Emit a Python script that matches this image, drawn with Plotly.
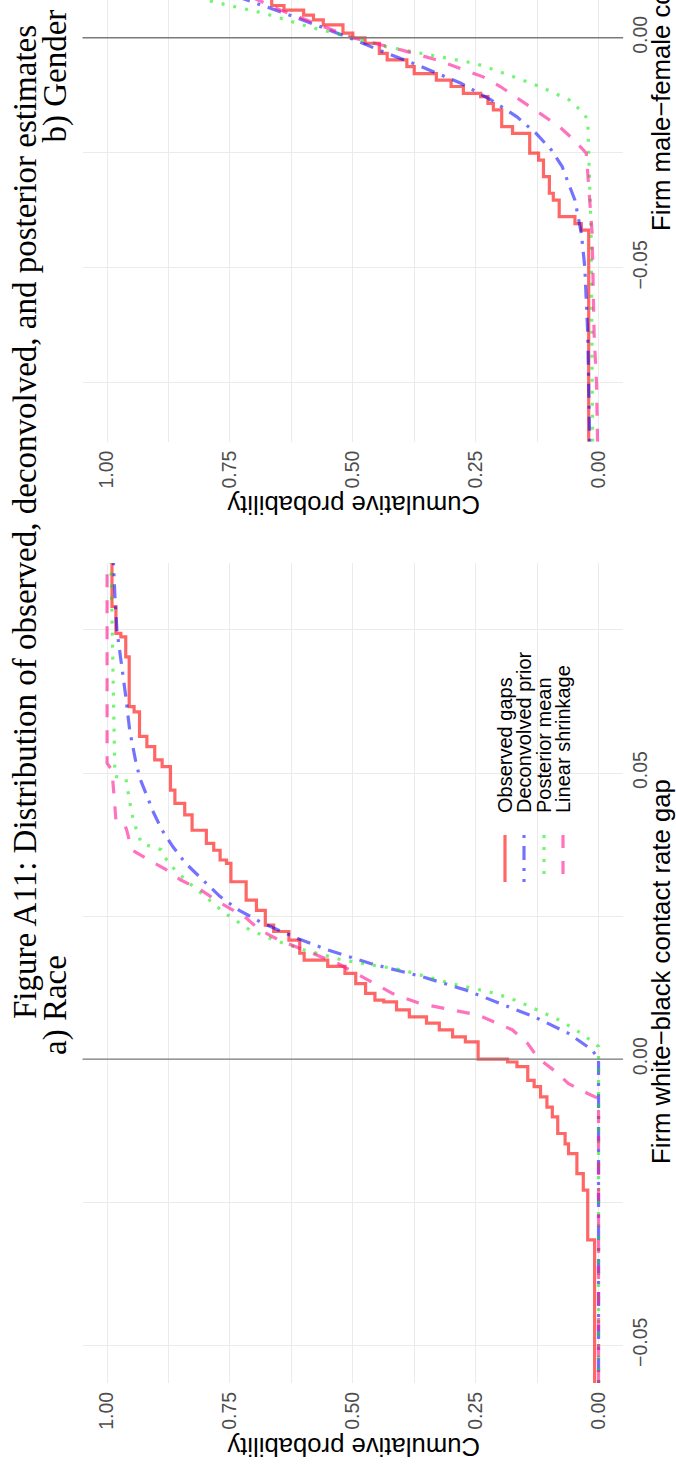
import plotly.graph_objects as go

W, H = 676, 1465

# ---------------- Panel a) Race : white-black contact gap ----------------
obs_a_gap = [-0.0566, -0.0316, -0.0229, -0.0200, -0.0165, -0.0148, -0.0130, -0.0101,
             -0.0084, -0.0066, -0.0048, -0.0037, -0.0013, -0.0005, 0.0000, 0.0030,
             0.0039, 0.0051, 0.0063, 0.0074, 0.0086, 0.0100, 0.0103, 0.0115, 0.0132,
             0.0150, 0.0162, 0.0173, 0.0185, 0.0208, 0.0223, 0.0234, 0.0260, 0.0278,
             0.0310, 0.0342, 0.0348, 0.0365, 0.0377, 0.0400, 0.0427, 0.0447, 0.0470,
             0.0511, 0.0523, 0.0546, 0.0564, 0.0607, 0.0616, 0.0703, 0.0738, 0.0744,
             0.0791, 0.0867]
obs_a_cdf = [0.008, 0.022, 0.031, 0.044, 0.061, 0.068, 0.083, 0.094,
             0.105, 0.118, 0.131, 0.144, 0.166, 0.185, 0.245, 0.271,
             0.297, 0.324, 0.350, 0.385, 0.411, 0.437, 0.455, 0.474, 0.494,
             0.516, 0.551, 0.599, 0.608, 0.630, 0.661, 0.678, 0.696, 0.717,
             0.748, 0.757, 0.770, 0.783, 0.798, 0.827, 0.842, 0.862, 0.871,
             0.888, 0.903, 0.919, 0.934, 0.945, 0.955, 0.962, 0.972, 0.982,
             0.990, 0.990]

dec_a_gap = [-0.0566, 0.0, 0.0016, 0.0045, 0.0074, 0.0103, 0.0121, 0.0144, 0.0167,
             0.0191, 0.0208, 0.0237, 0.0260, 0.0284, 0.0313, 0.0342, 0.0371, 0.0400,
             0.0430, 0.0459, 0.0488, 0.0517, 0.0575, 0.0634, 0.0692, 0.0750, 0.0808,
             0.0867]
dec_a_cdf = [0.0, 0.0, 0.013, 0.061, 0.131, 0.215, 0.271, 0.359, 0.464,
             0.551, 0.604, 0.682, 0.731, 0.770, 0.805, 0.840, 0.866, 0.888,
             0.905, 0.919, 0.932, 0.941, 0.954, 0.962, 0.971, 0.980, 0.984,
             0.987]

pm_a_gap = [-0.0566, 0.0022, 0.0045, 0.0068, 0.0092, 0.0103, 0.0115, 0.0132, 0.0156,
            0.0173, 0.0191, 0.0208, 0.0226, 0.0255, 0.0284, 0.0313, 0.0342, 0.0366,
            0.0377, 0.0400, 0.0430, 0.0459, 0.0491, 0.0494, 0.0750, 0.0867]
pm_a_cdf = [0.0, 0.0, 0.035, 0.079, 0.140, 0.170, 0.210, 0.300, 0.400,
            0.520, 0.600, 0.660, 0.710, 0.760, 0.800, 0.840, 0.875, 0.890,
            0.930, 0.940, 0.950, 0.955, 0.962, 0.984, 0.990, 0.992]

ls_a_gap = [-0.0566, -0.0069, -0.0060, -0.0043, -0.0022, 0.0001, 0.0027, 0.0051,
            0.0077, 0.0097, 0.0115, 0.0144, 0.0167, 0.0191, 0.0208, 0.0226, 0.0249,
            0.0273, 0.0296, 0.0313, 0.0331, 0.0348, 0.0366, 0.0400, 0.0412, 0.0418,
            0.0505, 0.0517, 0.0867]
ls_a_cdf = [0.0, 0.0, 0.022, 0.061, 0.087, 0.122, 0.144, 0.175,
            0.245, 0.363, 0.420, 0.480, 0.530, 0.600, 0.650, 0.690, 0.720,
            0.770, 0.810, 0.850, 0.880, 0.915, 0.950, 0.960, 0.965, 0.982,
            0.990, 1.000, 1.000]

# ---------------- Panel b) Gender : male-female contact gap ----------------
obs_b_gap = [-0.0878, -0.0418, -0.0404, -0.0389, -0.0353, -0.0338, -0.0302, -0.0266,
             -0.0251, -0.0208, -0.0193, -0.0157, -0.0143, -0.0128, -0.0121, -0.0106,
             -0.0092, -0.0078, -0.0063, -0.0048, -0.0034, -0.0012, 0.0000, 0.0010,
             0.0028, 0.0039, 0.0049, 0.0060, 0.0070, 0.0095]
obs_b_cdf = [0.020, 0.035, 0.048, 0.080, 0.092, 0.100, 0.112, 0.122,
             0.140, 0.175, 0.197, 0.214, 0.225, 0.240, 0.275, 0.300,
             0.330, 0.375, 0.390, 0.430, 0.446, 0.475, 0.500, 0.520,
             0.560, 0.580, 0.600, 0.640, 0.665, 0.665]

dec_b_gap = [-0.0878, -0.0643, -0.0570, -0.0498, -0.0425, -0.0353, -0.0317, -0.0280,
             -0.0244, -0.0208, -0.0172, -0.0135, -0.0099, -0.0063, -0.0027, 0.0000,
             0.0046, 0.0082, 0.0095]
dec_b_cdf = [0.018, 0.022, 0.025, 0.028, 0.035, 0.048, 0.061, 0.074,
             0.096, 0.127, 0.166, 0.219, 0.280, 0.360, 0.446, 0.507,
             0.620, 0.717, 0.750]

pm_b_gap = [-0.0878, -0.0425, -0.0179, -0.0164, -0.0135, -0.0106, -0.0078, -0.0056,
            -0.0034, -0.0020, 0.0000, 0.0024, 0.0053, 0.0082, 0.0095]
pm_b_cdf = [0.012, 0.015, 0.022, 0.030, 0.060, 0.120, 0.190, 0.250,
            0.360, 0.430, 0.500, 0.590, 0.680, 0.800, 0.830]

ls_b_gap = [-0.0878, -0.0752, -0.0643, -0.0425, -0.0251, -0.0222, -0.0193, -0.0172,
            -0.0135, -0.0106, -0.0085, -0.0048, -0.0027, 0.0000, 0.0060, 0.0095]
ls_b_cdf = [0.002, 0.004, 0.009, 0.013, 0.025, 0.050, 0.080, 0.110,
            0.160, 0.200, 0.235, 0.330, 0.400, 0.500, 0.647, 0.720]

prob_ticks = [0.0, 0.25, 0.5, 0.75, 1.0]
prob_labels = ["0.00", "0.25", "0.50", "0.75", "1.00"]
prob_minor = [0.125, 0.375, 0.625, 0.875]
gap_ticks = [-0.1, -0.05, 0.0, 0.05]
gap_labels = ["\u22120.10", "\u22120.05", "0.00", "0.05"]
gap_minor = [-0.075, -0.025, 0.025, 0.075]

series_names = ["Observed gaps", "Deconvolved prior", "Posterior mean", "Linear shrinkage"]
series_colors = ["rgba(255,0,0,0.6)", "rgba(0,0,255,0.55)",
                 "rgba(0,235,0,0.55)", "rgba(255,20,147,0.6)"]
series_dash = ["solid", "3px,8px,14px,8px", "3px,9px", "13px,13px"]
series_shape = ["vh", "linear", "linear", "linear"]
LW = 3.2


def px_x(x):
    return x / W


def px_y(y):
    return 1 - y / H


SANS = "Liberation Sans, Arial, sans-serif"
SERIF = "Liberation Serif, Times New Roman, serif"

fig = go.Figure()

panels = [
    ("x", "y", [(obs_a_cdf, obs_a_gap), (dec_a_cdf, dec_a_gap), (pm_a_cdf, pm_a_gap), (ls_a_cdf, ls_a_gap)]),
    ("x2", "y2", [(obs_b_cdf, obs_b_gap), (dec_b_cdf, dec_b_gap), (pm_b_cdf, pm_b_gap), (ls_b_cdf, ls_b_gap)]),
]
for xa, ya, data in panels:
    for i, (p, g) in enumerate(data):
        fig.add_trace(go.Scatter(
            x=p, y=g, mode="lines", xaxis=xa, yaxis=ya,
            name=series_names[i], showlegend=False, hoverinfo="skip",
            line=dict(color=series_colors[i], width=LW, dash=series_dash[i],
                      shape=series_shape[i]),
        ))

x_dom = [px_x(82.5), px_x(623.1)]
common_x = dict(
    range=[1.05, -0.05], domain=x_dom, showline=False, zeroline=False,
    ticks="", tickmode="array", tickvals=prob_ticks, ticktext=prob_labels,
    tickangle=-90, tickfont=dict(family=SANS, size=19.5, color="#4D4D4D"),
    showgrid=True, gridcolor="#EBEBEB", gridwidth=1.3,
    minor=dict(tickmode="array", tickvals=prob_minor, showgrid=True,
               gridcolor="#EBEBEB", gridwidth=0.8),
    ticklabelstandoff=4,
)
common_y = dict(
    side="right", showline=False, zeroline=False, ticks="",
    tickmode="array", tickvals=gap_ticks, ticktext=gap_labels,
    tickangle=-90, tickfont=dict(family=SANS, size=19.5, color="#4D4D4D"),
    showgrid=True, gridcolor="#EBEBEB", gridwidth=1.3,
    minor=dict(tickmode="array", tickvals=gap_minor, showgrid=True,
               gridcolor="#EBEBEB", gridwidth=0.8),
    ticklabelstandoff=3,
)

fig.update_layout(
    width=W, height=H, margin=dict(l=0, r=0, t=0, b=0),
    paper_bgcolor="white", plot_bgcolor="white", showlegend=False,
    xaxis=dict(common_x, anchor="y"),
    yaxis=dict(common_y, anchor="x", range=[-0.0566, 0.0867],
               domain=[px_y(1383), px_y(563)]),
    xaxis2=dict(common_x, anchor="y2"),
    yaxis2=dict(common_y, anchor="x2", range=[-0.0878, 0.0082],
                domain=[px_y(441.7), 1.0]),
)

# reference line at zero gap
for xa, ya in [("x", "y"), ("x2", "y2")]:
    fig.add_shape(type="line", xref=f"{xa} domain", yref=ya, x0=0, x1=1, y0=0, y1=0,
                  line=dict(color="#7A7A7A", width=1.3), layer="above")

annotations = []
# figure caption and sub-captions
annotations.append(dict(
    text="Figure A11: Distribution of observed, deconvolved, and posterior estimates",
    x=px_x(25), y=px_y(522), xref="paper", yref="paper", textangle=-90,
    xanchor="center", yanchor="middle", showarrow=False,
    font=dict(family=SERIF, size=33, color="black")))
annotations.append(dict(
    text="a) Race", x=px_x(55), y=px_y(1057), xref="paper", yref="paper", textangle=-90,
    xanchor="center", yanchor="bottom", showarrow=False,
    font=dict(family=SERIF, size=33, color="black")))
annotations.append(dict(
    text="b) Gender", x=px_x(55), y=px_y(8), xref="paper", yref="paper", textangle=-90,
    xanchor="center", yanchor="top", showarrow=False,
    font=dict(family=SERIF, size=33, color="black")))

# axis titles
annotations.append(dict(
    text="Firm white\u2212black contact rate gap", x=px_x(661), y=px_y(972),
    xref="paper", yref="paper", textangle=-90, xanchor="center", yanchor="middle",
    showarrow=False, font=dict(family=SANS, size=25.7, color="black")))
annotations.append(dict(
    text="Firm male\u2212female contact rate gap", x=px_x(661), y=px_y(233),
    xref="paper", yref="paper", textangle=-90, xanchor="center", yanchor="bottom",
    showarrow=False, font=dict(family=SANS, size=25.7, color="black")))
for yc in [1447, 505]:
    annotations.append(dict(
        text="Cumulative probability", x=px_x(353), y=px_y(yc), xref="paper", yref="paper",
        textangle=180, xanchor="center", yanchor="middle", showarrow=False,
        font=dict(family=SANS, size=25.7, color="black")))

# legend (drawn inside panel a)
legend_x = [505, 524, 544, 563]
for i, name in enumerate(series_names):
    annotations.append(dict(
        text=name, x=px_x(legend_x[i]), y=px_y(815), xref="paper", yref="paper",
        textangle=-90, xanchor="center", yanchor="bottom", showarrow=False,
        font=dict(family=SANS, size=20, color="black")))
    fig.add_shape(type="line", xref="paper", yref="paper",
                  x0=px_x(legend_x[i]), x1=px_x(legend_x[i]),
                  y0=px_y(835), y1=px_y(882),
                  line=dict(color=series_colors[i], width=LW, dash=series_dash[i]))

fig.update_layout(annotations=annotations)
fig.write_html("out.html")
